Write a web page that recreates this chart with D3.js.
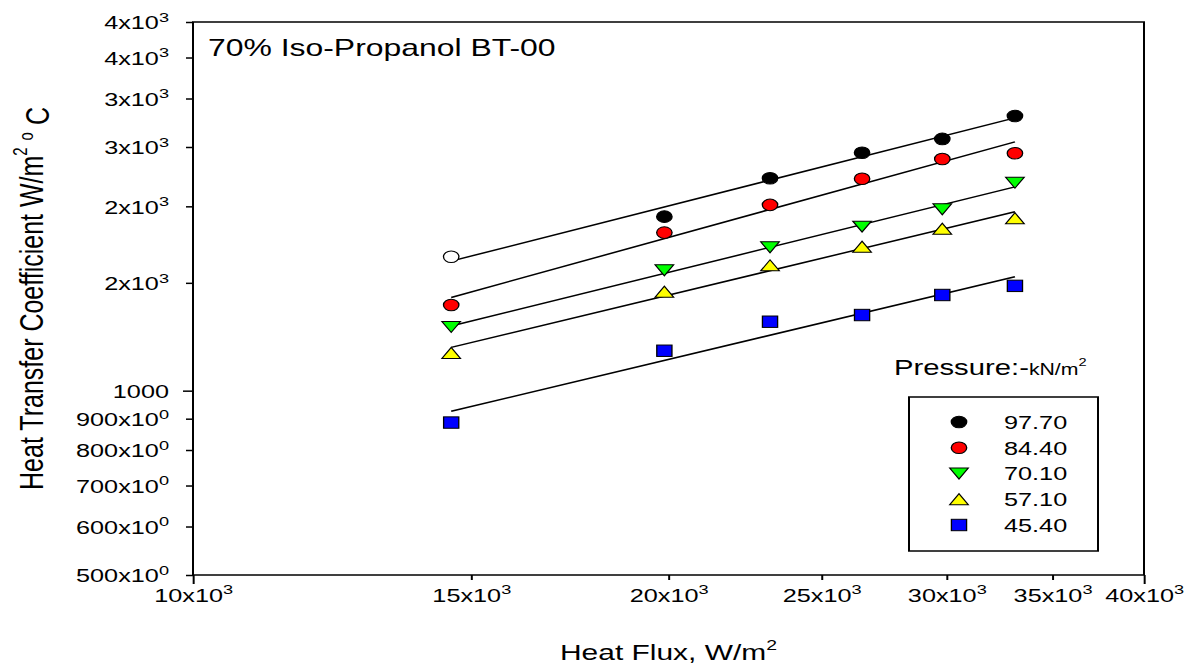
<!DOCTYPE html>
<html>
<head>
<meta charset="utf-8">
<script src="https://cdn.jsdelivr.net/npm/d3@7"></script>
<style>
  body { margin: 0; background: #fff; }
  svg { display: block; }
  text { font-family: "Liberation Sans", Arial, sans-serif; fill: #000; }
</style>
</head>
<body>
<script>
// heat flux, W/m2
var heatFlux = [14570, 19880, 23190, 26520, 29810, 33140];

// heat transfer coefficient for each pressure (kN/m2)
var pressures = ['97.70', '84.40', '70.10', '57.10', '45.40'];
var h977 = [1655, 1924, 2223, 2447, 2577, 2809];
var h844 = [1380, 1812, 2011, 2219, 2390, 2442];
var h701 = [1271, 1573, 1714, 1853, 1978, 2186];
var h571 = [1152, 1451, 1602, 1718, 1839, 1912];
var h454 = [887, 1162, 1296, 1329, 1433, 1483];
// first 97.70 point is drawn open
var open977 = [true, false, false, false, false, false];

var xTicks = [10000, 15000, 20000, 25000, 30000, 35000, 40000];
var xTickLabels = ['10x10^3', '15x10^3', '20x10^3', '25x10^3', '30x10^3', '35x10^3', '40x10^3'];
var yTicks = [500, 600, 700, 800, 900, 1000, 1500, 2000, 2500, 3000, 3500, 4000];
var yTickLabels = ['500x10^0', '600x10^0', '700x10^0', '800x10^0', '900x10^0', '1000',
  '2x10^3', '2x10^3', '3x10^3', '3x10^3', '4x10^3', '4x10^3'];

// the original picture is stretched sideways, so draw in narrower units
var K = 1.33;
var sx = function (px) { return px / K; };

var series = [
  { name: pressures[0], values: h977, open: open977, color: '#000000', shape: 'circle' },
  { name: pressures[1], values: h844, color: '#ff0000', shape: 'circle' },
  { name: pressures[2], values: h701, color: '#00ff00', shape: 'down' },
  { name: pressures[3], values: h571, color: '#ffff00', shape: 'up' },
  { name: pressures[4], values: h454, color: '#0000ff', shape: 'square' }
];

var plotLeft = sx(193), plotRight = sx(1144), plotTop = 22, plotBottom = 575;

var svg = d3.select('body').append('svg')
  .attr('width', 1196).attr('height', 666)
  .attr('viewBox', '0 0 ' + sx(1196) + ' 666')
  .attr('preserveAspectRatio', 'none');

var x = d3.scaleLog().domain([10000, 40000]).range([plotLeft, plotRight]);
var y = d3.scaleLog().domain([500, 4000]).range([plotBottom, plotTop]);

function setLabel(t, str) {
  var parts = str.split('^');
  t.text(parts[0]);
  if (parts[1] !== undefined) {
    t.append('tspan').attr('font-size', '72%').attr('dy', '-0.55em').text(parts[1]);
  }
}

// x axis
var gx = svg.append('g').attr('transform', 'translate(0,' + plotBottom + ')')
  .call(d3.axisBottom(x).tickValues(xTicks).tickSizeOuter(0).tickFormat(function () { return ''; }));
gx.select('.domain').remove();
gx.selectAll('.tick line')
  .attr('y2', function (d) { return (d === 10000 || d === 40000) ? 9 : 5; })
  .attr('stroke', '#000').attr('stroke-width', 1.5);
gx.selectAll('.tick text')
  .attr('y', 27).attr('dy', null)
  .attr('font-size', 19)
  .each(function (d, i) { setLabel(d3.select(this), xTickLabels[i]); });

// y axis
var gy = svg.append('g').attr('transform', 'translate(' + plotLeft + ',0)')
  .call(d3.axisLeft(y).tickValues(yTicks).tickSizeOuter(0).tickFormat(function () { return ''; }));
gy.select('.domain').remove();
gy.selectAll('.tick line')
  .attr('x2', function (d) { return d === 1000 ? -sx(10) : -sx(7); })
  .attr('stroke', '#000').attr('stroke-width', 1.5);
gy.selectAll('.tick text')
  .attr('x', -sx(24)).attr('dy', '0.36em')
  .attr('font-size', 19)
  .each(function (d, i) { setLabel(d3.select(this), yTickLabels[i]); });

// frame
svg.append('rect')
  .attr('x', plotLeft).attr('y', plotTop)
  .attr('width', plotRight - plotLeft).attr('height', plotBottom - plotTop)
  .attr('fill', 'none').attr('stroke', '#000').attr('stroke-width', 1.5);

// least squares fit in log-log space
function fit(values) {
  var lx = heatFlux.map(Math.log10), ly = values.map(Math.log10);
  var mx = d3.mean(lx), my = d3.mean(ly);
  var sxy = d3.sum(lx, function (v, i) { return (v - mx) * (ly[i] - my); });
  var sxx = d3.sum(lx, function (v) { return (v - mx) * (v - mx); });
  var b = sxy / sxx, a = my - b * mx;
  var ends = d3.extent(heatFlux);
  return ends.map(function (v) { return [v, Math.pow(10, a + b * Math.log10(v))]; });
}

var line = d3.line()
  .x(function (d) { return x(d[0]); })
  .y(function (d) { return y(d[1]); });

svg.selectAll('.fit').data(series).enter().append('path')
  .attr('class', 'fit')
  .attr('d', function (s) { return line(fit(s.values)); })
  .attr('fill', 'none').attr('stroke', '#000').attr('stroke-width', 1.5);

function drawMarker(g, shape, fill) {
  var m;
  if (shape === 'circle') {
    m = g.append('circle').attr('r', 5.8);
  } else if (shape === 'square') {
    m = g.append('rect').attr('x', -5.7).attr('y', -5.7).attr('width', 11.4).attr('height', 11.4);
  } else if (shape === 'down') {
    m = g.append('path').attr('d', 'M-7,-5.5L7,-5.5L0,5.5Z');
  } else {
    m = g.append('path').attr('d', 'M-7,5.5L7,5.5L0,-5.5Z');
  }
  m.attr('fill', fill).attr('stroke', '#000').attr('stroke-width', 1);
}

series.forEach(function (s) {
  svg.append('g').selectAll('g').data(s.values).enter().append('g')
    .attr('transform', function (d, i) { return 'translate(' + x(heatFlux[i]) + ',' + y(d) + ')'; })
    .each(function (d, i) {
      drawMarker(d3.select(this), s.shape, (s.open && s.open[i]) ? '#fff' : s.color);
    });
});

// title
svg.append('text')
  .attr('x', sx(208)).attr('y', 56)
  .attr('font-size', 24)
  .text('70% Iso-Propanol BT-00');

// x title
var xt = svg.append('text')
  .attr('x', (plotLeft + plotRight) / 2).attr('y', 660)
  .attr('text-anchor', 'middle').attr('font-size', 22.5)
  .text('Heat Flux, W/m');
xt.append('tspan').attr('font-size', '65%').attr('dy', '-0.7em').text('2');

// y title
var yt = svg.append('text')
  .attr('transform', 'translate(' + sx(43) + ',' + ((plotTop + plotBottom) / 2) + ') rotate(-90)')
  .attr('text-anchor', 'middle').attr('font-size', 25)
  .text('Heat Transfer Coefficient W/m');
yt.append('tspan').attr('font-size', '60%').attr('dy', '-0.8em').text('2');
yt.append('tspan').attr('dy', '0.48em').text(' ');
yt.append('tspan').attr('font-size', '60%').attr('dy', '-0.48em').text('o');
yt.append('tspan').attr('dy', '0.48em').text(' C');

// legend
var lt = svg.append('text')
  .attr('x', sx(894)).attr('y', 375)
  .attr('font-size', 22)
  .text('Pressure:-');
lt.append('tspan').attr('font-size', 16).text('kN/m');
lt.append('tspan').attr('font-size', 11).attr('dy', -9).text('2');

svg.append('rect')
  .attr('x', sx(909)).attr('y', 397)
  .attr('width', sx(1098 - 909)).attr('height', 154)
  .attr('fill', 'none').attr('stroke', '#000').attr('stroke-width', 1.5);

var rows = svg.selectAll('.leg').data(series).enter().append('g')
  .attr('class', 'leg')
  .attr('transform', function (d, i) { return 'translate(0,' + (422 + i * 25.75) + ')'; });
rows.each(function (s) {
  var g = d3.select(this).append('g').attr('transform', 'translate(' + sx(959) + ',0)');
  drawMarker(g, s.shape, s.color);
});
rows.append('text')
  .attr('x', sx(1004)).attr('dy', '0.36em')
  .attr('font-size', 19)
  .text(function (s) { return s.name; });
</script>
</body>
</html>
